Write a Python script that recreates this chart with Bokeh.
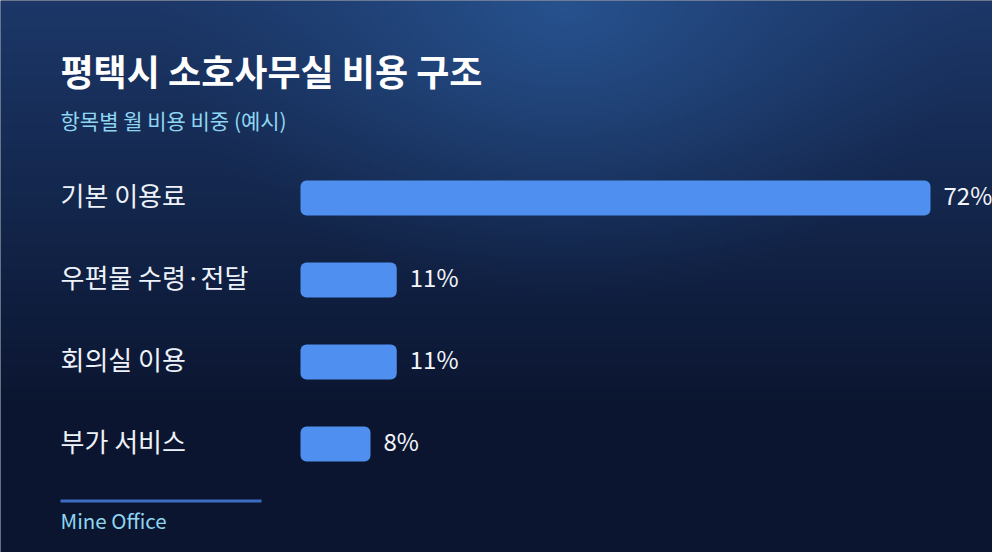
import numpy as np
from bokeh.plotting import figure
from bokeh.models import Range1d, Label, BoxAnnotation, ColumnDataSource
from bokeh.core.properties import value
from bokeh.embed import file_html
from bokeh.resources import INLINE

# ---- data ----
categories = ["기본 이용료", "우편물 수령·전달", "회의실 이용", "부가 서비스"]
shares = [72, 11, 11, 8]
share_labels = ["72%", "11%", "11%", "8%"]
title_text = "평택시 소호사무실 비용 구조"
subtitle_text = "항목별 월 비용 비중 (예시)"
footer_text = "Mine Office"

# ---- layout constants (pixels) ----
W, H = 992, 552
PX_PER_PCT = 8.75
BAR_LEFT_PX = 300
ROW0_PX = 197.5
ROW_STEP = 82
BAR_H_PX = 35
LEFT_PX = 60
FONT = "Noto Sans CJK KR"

X0 = -BAR_LEFT_PX / PX_PER_PCT
X1 = X0 + W / PX_PER_PCT
T = -ROW0_PX / ROW_STEP
B = T + H / ROW_STEP

p = figure(width=W, height=H, x_range=Range1d(X0, X1), y_range=Range1d(B, T),
           output_backend="svg", toolbar_location=None, min_border=0,
           background_fill_color="#0f1d3d", border_fill_color="#0f1d3d",
           outline_line_color=None)
p.axis.visible = False
p.grid.visible = False

# ---- background gradient (decoration) ----
ny, nx = 138, 248
yy, xx = np.mgrid[0:ny, 0:nx]
fy = yy / (ny - 1)          # 0 top -> 1 bottom
fx = xx / (nx - 1)
top = np.array([0x1c, 0x37, 0x68], float)
bot = np.array([0x0b, 0x15, 0x2f], float)
t = np.clip(fy / 0.75, 0, 1)[..., None]
base = top * (1 - t) + bot * t
hl = np.array([0x27, 0x52, 0x8e], float)
d = np.sqrt(((fx - 0.57) / 0.42) ** 2 + (fy / 0.55) ** 2)
w = np.clip(1 - d, 0, 1)[..., None] ** 1.3
col = base * (1 - w) + hl * w
img = np.zeros((ny, nx), dtype=np.uint32)
view = img.view(dtype=np.uint8).reshape((ny, nx, 4))
view[..., 0] = col[..., 0].astype(np.uint8)
view[..., 1] = col[..., 1].astype(np.uint8)
view[..., 2] = col[..., 2].astype(np.uint8)
view[..., 3] = 255
p.image_rgba(image=[img], x=X0, y=T, dw=X1 - X0, dh=B - T)

# ---- bars ----
src = ColumnDataSource(dict(y=list(range(len(categories))), v=shares,
                            cat=categories, lab=share_labels))
p.hbar(y="y", left=0, right="v", height=BAR_H_PX / ROW_STEP, source=src,
       fill_color="#4f8ff0", line_color=None, border_radius=6)

p.text(x=X0, y="y", text="cat", source=src, x_offset=LEFT_PX, y_offset=-4,
       text_baseline="middle", text_align="left", text_color="#eef2fa",
       text_font=value(FONT), text_font_size="26px")
p.text(x="v", y="y", text="lab", source=src, x_offset=13, y_offset=-4,
       text_baseline="middle", text_align="left", text_color="#f2f5fb",
       text_font=value(FONT), text_font_size="24px")

# ---- titles ----
p.add_layout(Label(x=LEFT_PX, y=H - 69, x_units="screen", y_units="screen",
                   text=title_text, text_font=FONT, text_font_size="36px",
                   text_font_style="bold", text_color="#ffffff",
                   text_baseline="middle"))
p.add_layout(Label(x=LEFT_PX, y=H - 119, x_units="screen", y_units="screen",
                   text=subtitle_text, text_font=FONT, text_font_size="21px",
                   text_color="#8fd6f2", text_baseline="middle"))

# ---- footer ----
p.add_layout(BoxAnnotation(left=LEFT_PX, right=261, bottom=H - 502, top=H - 499,
                           left_units="screen", right_units="screen",
                           top_units="screen", bottom_units="screen",
                           fill_color="#3d6dc2", fill_alpha=1, line_color=None))
p.add_layout(Label(x=LEFT_PX, y=H - 519, x_units="screen", y_units="screen",
                   text=footer_text, text_font=FONT, text_font_size="20.5px",
                   text_color="#8fd6f2", text_baseline="middle"))

open("out.html", "w").write(file_html(p, INLINE))
